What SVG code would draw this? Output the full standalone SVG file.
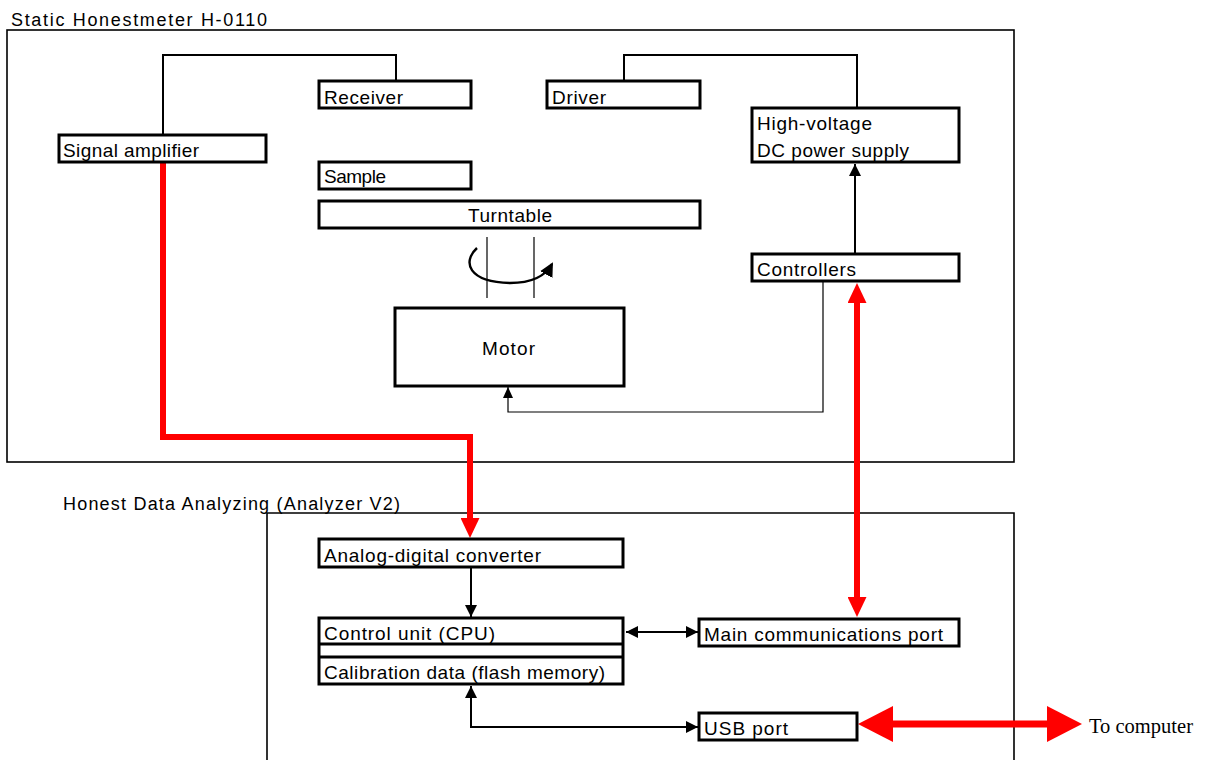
<svg xmlns="http://www.w3.org/2000/svg" width="1207" height="760" viewBox="0 0 1207 760">
<style>
.frame{fill:none;stroke:#000;stroke-width:1.6}
.box{fill:#fff;stroke:#000;stroke-width:3}
.t{font-family:"Liberation Sans",Arial,sans-serif;font-size:19px;fill:#000}
.title{font-family:"Liberation Sans",Arial,sans-serif;font-size:18px;fill:#000}
.ser{font-family:"Liberation Serif","Times New Roman",serif;font-size:22px;fill:#000}
.wire{fill:none;stroke:#000;stroke-width:2}
.thin{fill:none;stroke:#000;stroke-width:1.2}
.red{fill:none;stroke:#f00;stroke-width:6}
.redfat{fill:none;stroke:#f00;stroke-width:7}
</style>
<defs>
<marker id="ah" viewBox="0 0 12 12" refX="12" refY="6" markerWidth="12" markerHeight="12" markerUnits="userSpaceOnUse" orient="auto-start-reverse">
<path d="M0,0 L12,6 L0,12 z" fill="#000"/>
</marker>
<marker id="ahs" viewBox="0 0 11 10" refX="11" refY="5" markerWidth="11" markerHeight="10" markerUnits="userSpaceOnUse" orient="auto">
<path d="M0,0 L11,5 L0,10 z" fill="#000"/>
</marker>
<marker id="ahr" viewBox="0 0 14 14" refX="12" refY="7" markerWidth="14" markerHeight="14" markerUnits="userSpaceOnUse" orient="auto">
<path d="M0,0 L14,7 L0,14 z" fill="#000"/>
</marker>
<marker id="rs" viewBox="0 0 20 19" refX="0" refY="9.5" markerWidth="20" markerHeight="19" markerUnits="userSpaceOnUse" orient="auto-start-reverse">
<path d="M0,0 L20,9.5 L0,19 z" fill="#f00"/>
</marker>
<marker id="rb" viewBox="0 0 35 36" refX="0" refY="18" markerWidth="35" markerHeight="36" markerUnits="userSpaceOnUse" orient="auto-start-reverse">
<path d="M0,0 L35,18 L0,36 z" fill="#f00"/>
</marker>
</defs>

<g id="meter-frame">
<rect class="frame" x="7" y="30" width="1007" height="432"/>
<text class="title" x="11" y="26" textLength="256">Static Honestmeter H-0110</text>
</g>
<g id="analyzer-frame">
<path class="frame" d="M267,770 L267,513 L1014,513 L1014,770"/>
<text class="title" x="63" y="510" textLength="337">Honest Data Analyzing (Analyzer V2)</text>
</g>

<g id="connectors">
<path class="wire" d="M163,135 L163,55 L396,55 L396,81"/>
<path class="wire" d="M624,81 L624,55 L857,55 L857,108"/>
<path class="wire" d="M855,254 L855,164" marker-end="url(#ah)"/>
<path class="thin" d="M823,282 L823,412 L508,412 L508,387" marker-end="url(#ahs)"/>
<line class="thin" x1="487" y1="237" x2="487" y2="298"/>
<line class="thin" x1="534" y1="237" x2="534" y2="298"/>
<path fill="none" stroke="#000" stroke-width="2.4" d="M477,248 C462,262 468,282 510,283 C534,283 546,275 552,264" marker-end="url(#ahr)"/>
<path class="wire" d="M471,567 L471,617" marker-end="url(#ah)"/>
<path class="wire" d="M626,632 L698,632" marker-start="url(#ah)" marker-end="url(#ah)"/>
<path class="wire" d="M698,727 L471,727 L471,686" marker-start="url(#ah)" marker-end="url(#ah)"/>
<path class="red" d="M163,162 L163,437 L470,437 L470,518" marker-end="url(#rs)"/>
<path class="red" d="M857,303 L857,597" marker-start="url(#rs)" marker-end="url(#rs)"/>
<path class="redfat" d="M893,724 L1047,724" marker-start="url(#rb)" marker-end="url(#rb)"/>
</g>

<g id="receiver"><rect class="box" x="319" y="81" width="152" height="27"/><text class="t" x="324" y="104" textLength="79">Receiver</text></g>
<g id="signal-amplifier"><rect class="box" x="59" y="135" width="207" height="27"/><text class="t" x="63" y="157" textLength="136">Signal amplifier</text></g>
<g id="sample"><rect class="box" x="319" y="162" width="152" height="27"/><text class="t" x="324" y="183" textLength="62">Sample</text></g>
<g id="driver"><rect class="box" x="547" y="81" width="153" height="27"/><text class="t" x="552" y="104" textLength="54">Driver</text></g>
<g id="hv-supply"><rect class="box" x="752" y="108" width="207" height="54"/><text class="t" x="757" y="130" textLength="115">High-voltage</text><text class="t" x="757" y="157" textLength="152">DC power supply</text></g>
<g id="turntable"><rect class="box" x="319" y="201" width="381" height="27"/><text class="t" x="468" y="222" textLength="84">Turntable</text></g>
<g id="controllers"><rect class="box" x="752" y="254" width="207" height="27"/><text class="t" x="757" y="276" textLength="99">Controllers</text></g>
<g id="motor"><rect class="box" x="395" y="308" width="229" height="78"/><text class="t" x="482" y="355" textLength="53">Motor</text></g>
<g id="adc"><rect class="box" x="319" y="539" width="304" height="28"/><text class="t" x="324" y="562" textLength="217">Analog-digital converter</text></g>
<g id="cpu"><rect class="box" x="319" y="618" width="304" height="66"/><line stroke="#000" stroke-width="3" x1="319" y1="644" x2="623" y2="644"/><line stroke="#000" stroke-width="3" x1="319" y1="657" x2="623" y2="657"/><text class="t" x="324" y="640" textLength="171">Control unit (CPU)</text><text class="t" x="324" y="679" textLength="281">Calibration data (flash memory)</text></g>
<g id="main-port"><rect class="box" x="699" y="619" width="260" height="27"/><text class="t" x="704" y="641" textLength="239">Main communications port</text></g>
<g id="usb-port"><rect class="box" x="699" y="713" width="158" height="27"/><text class="t" x="704" y="735" textLength="84">USB port</text></g>
<g id="computer"><text class="ser" x="1089" y="733" textLength="104" lengthAdjust="spacingAndGlyphs">To computer</text></g>
</svg>
